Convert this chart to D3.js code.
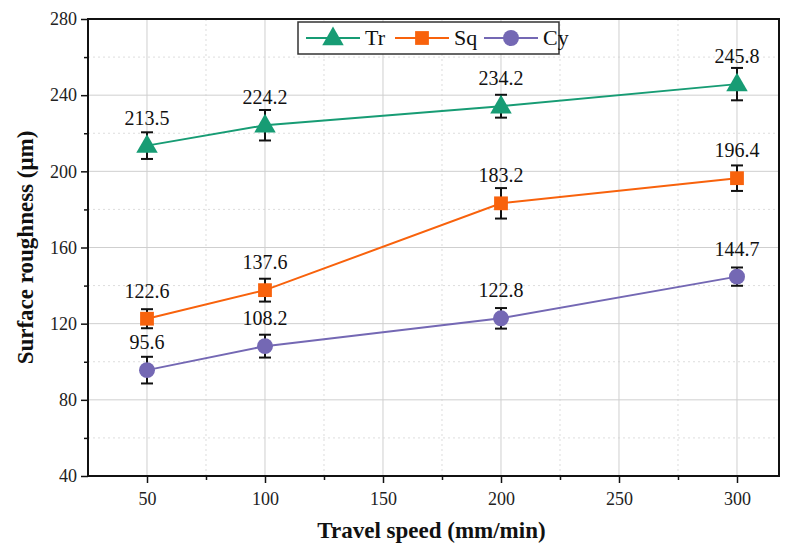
<html>
<head>
<style>
  body { margin: 0; background: #fff; }
  svg text { font-family: "Liberation Serif", "DejaVu Serif", serif; fill: #111; }
</style>
</head>
<body>
<svg id="chart" width="785" height="550"></svg>
<script src="https://d3js.org/d3.v7.min.js"></script>
<script>
const speeds = [50, 100, 200, 300];
const trVals = [213.5, 224.2, 234.2, 245.8];
const trErr = [7, 8, 6, 8.5];
const sqVals = [122.6, 137.6, 183.2, 196.4];
const sqErr = [5, 6, 8, 6.7];
const cyVals = [95.6, 108.2, 122.8, 144.7];
const cyErr = [7, 6, 5.4, 4.8];
const xTicks = [50, 100, 150, 200, 250, 300];
const yTicks = [40, 80, 120, 160, 200, 240, 280];

const series = [
  {name: "Tr", vals: trVals, err: trErr, color: "#179c74", shape: d3.symbolTriangle, size: 200},
  {name: "Sq", vals: sqVals, err: sqErr, color: "#f8620c", shape: d3.symbolSquare, size: 190},
  {name: "Cy", vals: cyVals, err: cyErr, color: "#7468b4", shape: d3.symbolCircle, size: 200}
];

const L = 88, R = 779, T = 19, B = 476;
const x = d3.scaleLinear().domain([25, 317.8]).range([L, R]);
const y = d3.scaleLinear().domain([40, 280]).range([B, T]);

const svg = d3.select("#chart");

// grid
const minorX = d3.range(75, 318, 50);
const minorY = d3.range(60, 280, 40);
svg.append("g").selectAll("line").data(minorX).join("line")
  .attr("x1", d => x(d)).attr("x2", d => x(d)).attr("y1", T).attr("y2", B)
  .attr("stroke", "#ddd").attr("stroke-dasharray", "2,3");
svg.append("g").selectAll("line").data(minorY).join("line")
  .attr("y1", d => y(d)).attr("y2", d => y(d)).attr("x1", L).attr("x2", R)
  .attr("stroke", "#ddd").attr("stroke-dasharray", "2,3");
svg.append("g").selectAll("line").data(xTicks).join("line")
  .attr("x1", d => x(d)).attr("x2", d => x(d)).attr("y1", T).attr("y2", B)
  .attr("stroke", "#cfcfcf");
svg.append("g").selectAll("line").data(yTicks.slice(1, -1)).join("line")
  .attr("y1", d => y(d)).attr("y2", d => y(d)).attr("x1", L).attr("x2", R)
  .attr("stroke", "#cfcfcf");

// axes
svg.append("g").attr("transform", `translate(0,${B})`)
  .call(d3.axisBottom(x).tickValues(xTicks).tickSize(7).tickPadding(9));
svg.append("g").attr("transform", `translate(${L},0)`)
  .call(d3.axisLeft(y).tickValues(yTicks).tickSize(7).tickPadding(4));
svg.append("g").attr("transform", `translate(0,${B})`)
  .call(d3.axisBottom(x).tickValues(minorX).tickSize(4).tickFormat(""));
svg.append("g").attr("transform", `translate(${L},0)`)
  .call(d3.axisLeft(y).tickValues(minorY).tickSize(4).tickFormat(""));
svg.selectAll(".domain").remove();
svg.selectAll(".tick line").attr("stroke", "#111").attr("stroke-width", 1.5);
svg.selectAll(".tick text")
  .style("font-size", "18px").style("font-family", "'Liberation Serif', serif").style("fill", "#222");

svg.append("rect").attr("x", L).attr("y", T).attr("width", R - L).attr("height", B - T)
  .attr("fill", "none").attr("stroke", "#111").attr("stroke-width", 2);

// series
const line = d3.line().x(d => x(d[0])).y(d => y(d[1]));
series.forEach(s => {
  const pts = speeds.map((v, i) => [v, s.vals[i], s.err[i]]);
  const g = svg.append("g");
  g.append("path").datum(pts).attr("d", line).attr("fill", "none")
    .attr("stroke", s.color).attr("stroke-width", 2);
  const eb = g.selectAll("g.err").data(pts).join("g").attr("stroke", "#111").attr("stroke-width", 2);
  eb.append("line").attr("x1", d => x(d[0])).attr("x2", d => x(d[0]))
    .attr("y1", d => y(d[1] + d[2])).attr("y2", d => y(d[1] - d[2]));
  eb.append("line").attr("x1", d => x(d[0]) - 6).attr("x2", d => x(d[0]) + 6)
    .attr("y1", d => y(d[1] + d[2])).attr("y2", d => y(d[1] + d[2]));
  eb.append("line").attr("x1", d => x(d[0]) - 6).attr("x2", d => x(d[0]) + 6)
    .attr("y1", d => y(d[1] - d[2])).attr("y2", d => y(d[1] - d[2]));
  g.selectAll("path.m").data(pts).join("path").attr("class", "m")
    .attr("d", d3.symbol().type(s.shape).size(s.size))
    .attr("transform", d => `translate(${x(d[0])},${y(d[1]) + (s.name === "Tr" ? 1 : 0)})`)
    .attr("fill", s.color);
  g.selectAll("text").data(pts).join("text")
    .attr("x", d => x(d[0])).attr("y", d => y(d[1]) - 21)
    .attr("text-anchor", "middle").style("font-size", "20px")
    .text(d => d[1].toFixed(1));
});

// legend
const lg = svg.append("g").attr("transform", "translate(298,22)");
lg.append("rect").attr("width", 261).attr("height", 32).attr("fill", "#fff")
  .attr("stroke", "#333").attr("stroke-width", 1.5);
const lx = [8, 97, 186];
series.forEach((s, i) => {
  const gx = lx[i];
  lg.append("line").attr("x1", gx).attr("x2", gx + 54).attr("y1", 16).attr("y2", 16)
    .attr("stroke", s.color).attr("stroke-width", 2);
  lg.append("path").attr("d", d3.symbol().type(s.shape).size(s.size))
    .attr("transform", `translate(${gx + 27},${16 + (s.name === "Tr" ? 1 : 0)})`).attr("fill", s.color);
  lg.append("text").attr("x", gx + 59).attr("y", 23).style("font-size", "22px").text(s.name);
});

// titles
svg.append("text").attr("x", (L + R) / 2 - 2).attr("y", 538).attr("text-anchor", "middle")
  .style("font-size", "23px").style("font-weight", "bold").text("Travel speed (mm/min)");
svg.append("text").attr("transform", `translate(33,${(T + B) / 2}) rotate(-90)`)
  .attr("text-anchor", "middle").style("font-size", "23px").style("font-weight", "bold")
  .text("Surface roughness (μm)");
</script>
</body>
</html>
